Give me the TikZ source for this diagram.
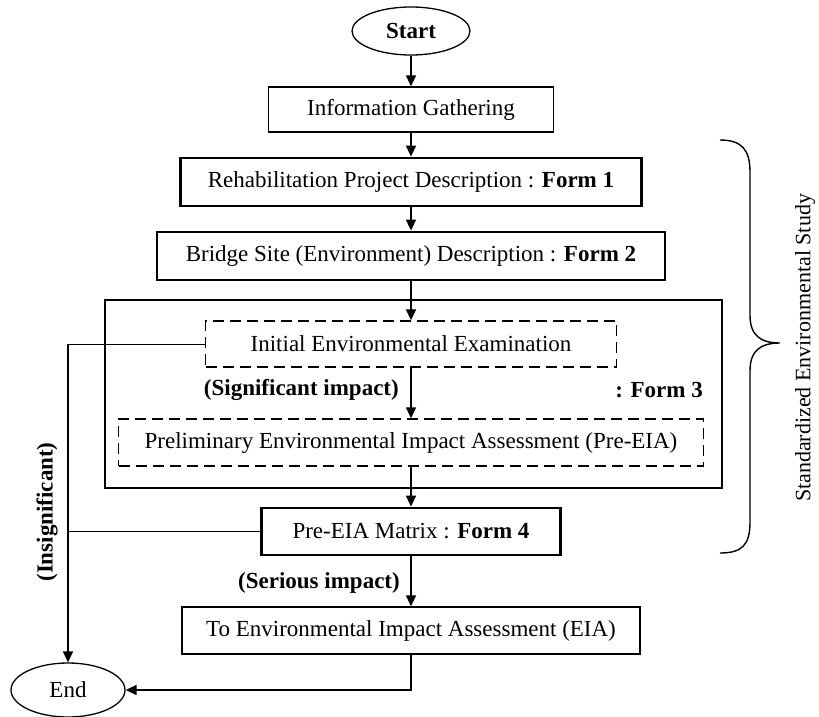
\documentclass[tikz,border=0pt]{standalone}
\usepackage{fontspec}
\setmainfont{Liberation Serif}
\usetikzlibrary{arrows.meta,shapes.geometric}

\begin{document}
\begin{tikzpicture}[x=1pt,y=-1pt,
  every node/.style={font=\fontsize{23}{27}\selectfont, inner sep=0pt},
  thinbox/.style={draw, rectangle, line width=1.3pt, minimum height=46pt},
  thickbox/.style={draw, rectangle, line width=2.8pt, minimum height=48pt},
  dashbox/.style={draw, rectangle, line width=1.4pt, dash pattern=on 11pt off 6pt},
  terminal/.style={draw, ellipse, line width=1.3pt},
  flow/.style={line width=1.6pt, -{Triangle[length=11pt,width=10pt]}},
  bypass/.style={line width=1pt},
  tag/.style={font=\bfseries\fontsize{23}{27}\selectfont}
]
\useasboundingbox (0,0) rectangle (819,717);

% process chain
\node[terminal, minimum width=118pt, minimum height=48pt,
      font=\bfseries\fontsize{23}{27}\selectfont] (start) at (411,31) {Start};
\node[thinbox, minimum width=285pt, minimum height=45pt] (info) at (411,109.5) {Information Gathering};
\node[thickbox, minimum width=461pt] (rehab) at (411,182) {Rehabilitation Project Description : \textbf{Form 1}};
\node[thickbox, minimum width=508pt] (bridge) at (411,256) {Bridge Site (Environment) Description : \textbf{Form 2}};
\node[thickbox, minimum width=617pt, minimum height=188pt] (group) at (413.5,394) {};
\node[dashbox, minimum width=411pt, minimum height=46pt] (iee) at (411,344) {Initial Environmental Examination};
\node[dashbox, minimum width=585pt, minimum height=47pt] (pre) at (411,442.5) {Preliminary Environmental Impact Assessment (Pre-EIA)};
\node[thickbox, minimum width=299pt, minimum height=47pt] (matrix) at (411,531.5) {Pre-EIA Matrix : \textbf{Form 4}};
\node[thinbox, minimum width=458pt, minimum height=47pt] (eia) at (411,630.5) {To Environmental Impact Assessment (EIA)};
\node[terminal, minimum width=114pt, minimum height=54pt] (end) at (68,690) {End};

% labels
\node[tag, anchor=east] (sig) at (399,390) {(Significant impact)};
\node[tag, anchor=east] (form3) at (703,390) {: Form 3};
\node[tag, anchor=east] (ser) at (400,583) {(Serious impact)};
\node[tag, rotate=90] (insig) at (47,512) {(Insignificant)};
\node[rotate=90, font=\fontsize{22}{26}\selectfont] (ses) at (805,348) {Standardized Environmental Study};

% connectors
\draw[flow] (start.south) -- (info.north);
\draw[flow] (info.south) -- (rehab.north);
\draw[flow] (rehab.south) -- (bridge.north);
\draw[flow] (bridge.south) -- (iee.north);
\draw[flow] (iee.south) -- (pre.north);
\draw[flow] (pre.south) -- (matrix.north);
\draw[flow] (matrix.south) -- (eia.north);
\draw[flow] (eia.south) |- (end.east);

% insignificant bypass
\coordinate (bend) at (68,344);
\draw[bypass] (iee.west) -- (bend);
\draw[bypass] (matrix.west) -- (matrix.west -| bend);
\draw[flow, line width=1.3pt] (bend) -- (end.north);

% brace over the standardized study
\draw[line width=1.4pt] (720,140) .. controls (742,140) and (750,150) .. (750,172)
  -- (750,315) .. controls (750,335) and (760,343) .. (780,343)
  .. controls (760,343) and (750,351) .. (750,371)
  -- (750,522) .. controls (750,545) and (742,553) .. (720,553);
\end{tikzpicture}
\end{document}
